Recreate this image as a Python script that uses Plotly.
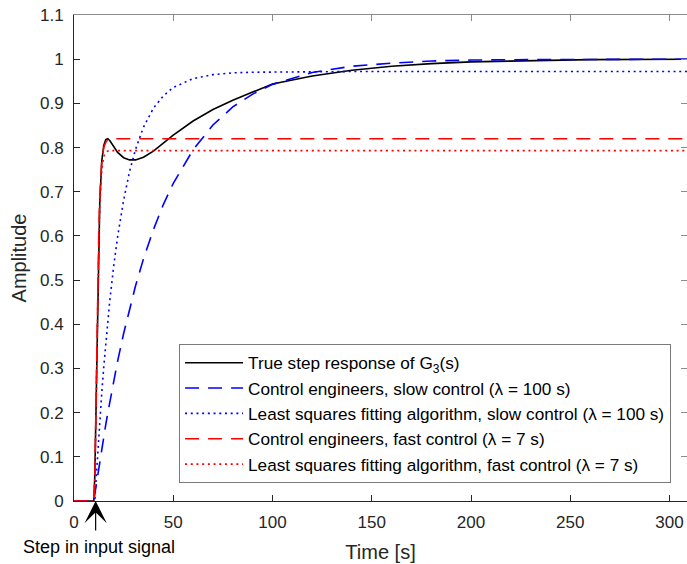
import plotly.graph_objects as go

# Time axis [s]
t = [0, 10, 10.5, 11, 11.5, 12, 12.5, 13, 14, 15, 16, 17, 18, 20, 22, 25, 28, 31, 35, 40,
     45, 50, 60, 70, 80, 90, 100, 120, 140, 160, 180, 200, 230, 260, 310]

# True step response of G3(s)
true_resp = [0, 0, 0.06, 0.2, 0.35, 0.5, 0.6, 0.68, 0.77, 0.805,
             0.818, 0.82, 0.816, 0.803, 0.789, 0.777, 0.772, 0.772, 0.778, 0.792,
             0.81, 0.828, 0.86, 0.886, 0.907, 0.926, 0.944, 0.962, 0.975, 0.984,
             0.99, 0.994, 0.997, 0.999, 1.0]

# Control engineers, slow control (lambda = 100 s)
ce_slow = [0, 0, 0.016, 0.031, 0.046, 0.062, 0.076, 0.091, 0.119, 0.147,
           0.173, 0.199, 0.224, 0.272, 0.317, 0.379, 0.435, 0.487, 0.548, 0.614,
           0.671, 0.719, 0.795, 0.851, 0.892, 0.921, 0.943, 0.970, 0.984, 0.991,
           0.996, 0.998, 0.999, 1.0, 1.0]

# Least squares fitting algorithm, slow control (lambda = 100 s)
ls_slow = [0, 0, 0, 0.040, 0.079, 0.114, 0.150, 0.183, 0.246, 0.304,
           0.358, 0.406, 0.452, 0.532, 0.599, 0.681, 0.746, 0.796, 0.846, 0.889,
           0.917, 0.936, 0.956, 0.965, 0.969, 0.9705, 0.971, 0.972, 0.972, 0.972,
           0.972, 0.972, 0.972, 0.972, 0.972]

# Control engineers, fast control (lambda = 7 s)
ce_fast = [0, 0, 0.05, 0.2, 0.37, 0.5, 0.61, 0.69, 0.77, 0.80,
           0.812, 0.817, 0.819, 0.82, 0.82, 0.82, 0.82, 0.82, 0.82, 0.82,
           0.82, 0.82, 0.82, 0.82, 0.82, 0.82, 0.82, 0.82, 0.82, 0.82,
           0.82, 0.82, 0.82, 0.82, 0.82]

# Least squares fitting algorithm, fast control (lambda = 7 s)
ls_fast = [0, 0, 0.05, 0.19, 0.36, 0.49, 0.59, 0.67, 0.75, 0.78,
           0.789, 0.792, 0.793, 0.793, 0.793, 0.793, 0.793, 0.793, 0.793, 0.793,
           0.793, 0.793, 0.793, 0.793, 0.793, 0.793, 0.793, 0.793, 0.793, 0.793,
           0.793, 0.793, 0.793, 0.793, 0.793]

x_ticks = [0, 50, 100, 150, 200, 250, 300]
y_ticks = [0, 0.1, 0.2, 0.3, 0.4, 0.5, 0.6, 0.7, 0.8, 0.9, 1, 1.1]
y_tick_labels = ["0", "0.1", "0.2", "0.3", "0.4", "0.5", "0.6", "0.7", "0.8", "0.9", "1", "1.1"]

names = [
    "True step response of G<sub>3</sub>(s)",
    "Control engineers, slow control (λ = 100 s)",
    "Least squares fitting algorithm, slow control (λ = 100 s)",
    "Control engineers, fast control (λ = 7 s)",
    "Least squares fitting algorithm, fast control (λ = 7 s)",
]

FONT = "Liberation Sans, Arial, Helvetica, sans-serif"
AX = "#262626"
AX2 = "#8c8c8c"

fig = go.Figure()
series = [
    (true_resp, "#000000", "solid"),
    (ce_slow, "#0000ff", "14px,9px"),
    (ls_slow, "#0000ff", "2px,3.7px"),
    (ce_fast, "#ff0000", "14px,9px"),
    (ls_fast, "#ff0000", "2px,3.7px"),
]
for (vals, col, dash), nm in zip(series, names):
    fig.add_trace(go.Scatter(x=t, y=vals, mode="lines", name=nm,
                             line=dict(color=col, width=1.6, dash=dash)))

# empty trace so mirrored top/right axes get drawn
fig.add_trace(go.Scatter(x=[], y=[], xaxis="x2", yaxis="y2", showlegend=False,
                         hoverinfo="skip"))

xr = [0, 308.8]
yr = [0, 1.1]

fig.update_layout(
    width=687, height=564,
    margin=dict(l=74, r=0, t=15, b=63),
    paper_bgcolor="white", plot_bgcolor="white",
    font=dict(family=FONT, color=AX, size=17),
    showlegend=True,
    legend=dict(
        x=0.974, y=0.037, xanchor="right", yanchor="bottom",
        bgcolor="white", bordercolor="#7a7a7a", borderwidth=1,
        font=dict(family=FONT, size=17.2, color="#000000"),
        itemwidth=58, tracegroupgap=0,
    ),
    xaxis=dict(
        range=xr, tickvals=x_ticks, ticks="inside", ticklen=6, tickwidth=1,
        tickcolor=AX, showline=True, linecolor=AX, linewidth=1, mirror=False,
        showgrid=False, zeroline=False, tickfont=dict(size=17, color=AX),
        ticklabelstandoff=6,
        title=dict(text="Time [s]", font=dict(size=20, color=AX), standoff=13),
    ),
    yaxis=dict(
        range=yr, tickvals=y_ticks, ticktext=y_tick_labels, ticks="inside",
        ticklen=6, tickwidth=1, tickcolor=AX, showline=True, linecolor=AX,
        linewidth=1, mirror=False, showgrid=False, zeroline=False,
        tickfont=dict(size=17, color=AX), ticklabelstandoff=6,
        title=dict(text="Amplitude", font=dict(size=20, color=AX), standoff=7),
    ),
    xaxis2=dict(
        overlaying="x", side="top", anchor="y2", range=xr, tickvals=x_ticks,
        ticks="inside", ticklen=6, tickcolor=AX2, showline=True, linecolor=AX2,
        showticklabels=False, showgrid=False, zeroline=False,
    ),
    yaxis2=dict(
        overlaying="y", side="right", anchor="x2", range=yr, tickvals=y_ticks,
        ticks="inside", ticklen=6, tickcolor=AX2, showline=False,
        showticklabels=False, showgrid=False, zeroline=False,
    ),
)

fig.add_annotation(x=10.9, y=0, xref="x", yref="y", ax=0, ay=31, text="",
                   showarrow=True, arrowhead=3, arrowsize=3.1, arrowwidth=1.2,
                   arrowcolor="#000000")
fig.add_annotation(x=0.0408, y=-0.0947, xref="paper", yref="paper",
                   text="Step in input signal", showarrow=False,
                   xanchor="center", yanchor="middle",
                   font=dict(family=FONT, size=18, color="#000000"))

fig.write_html("out.html")
